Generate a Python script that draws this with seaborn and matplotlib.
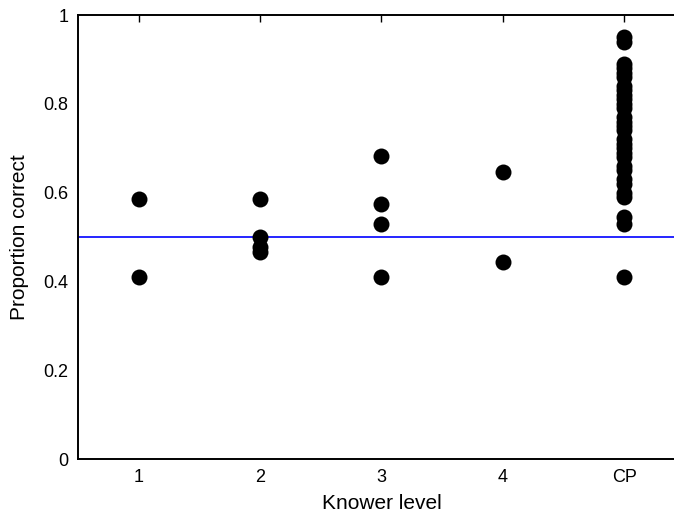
import matplotlib
matplotlib.use("Agg")
import matplotlib.pyplot as plt
import seaborn as sns
import pandas as pd

levels = ["1", "2", "3", "4", "CP"]
level1 = [0.585, 0.41]
level2 = [0.585, 0.50, 0.477, 0.466]
level3 = [0.682, 0.574, 0.529, 0.41]
level4 = [0.647, 0.444]
levelCP = [0.95, 0.94, 0.89, 0.88, 0.87, 0.86, 0.84, 0.83, 0.82, 0.81, 0.80,
           0.79, 0.77, 0.76, 0.75, 0.74, 0.72, 0.71, 0.70, 0.69, 0.68, 0.66,
           0.65, 0.63, 0.62, 0.60, 0.59, 0.545, 0.53, 0.41]
chance = 0.5

rows = []
for lab, vals in zip(levels, [level1, level2, level3, level4, levelCP]):
    for v in vals:
        rows.append({"Knower level": lab, "Proportion correct": v})
df = pd.DataFrame(rows)

sns.set_style("white")
plt.rcParams['font.family'] = ['Liberation Sans', 'DejaVu Sans']
plt.rcParams['text.color'] = 'black'
plt.rcParams['axes.labelcolor'] = 'black'

fig = plt.figure(figsize=(6.74, 5.19), dpi=100)
ax = fig.add_axes([78/674, 60/519, (685-78)/674, 444/519])

sns.stripplot(data=df, x="Knower level", y="Proportion correct", order=levels,
              jitter=False, color="black", size=11.5, linewidth=0, ax=ax, zorder=3)
ax.axhline(chance, color="blue", linewidth=1.2, zorder=2)

ax.set_xlim(-0.5, 4.5)
ax.set_ylim(0, 1)
ax.set_yticks([0, 0.2, 0.4, 0.6, 0.8, 1])
ax.set_yticklabels(["0", "0.2", "0.4", "0.6", "0.8", "1"])
ax.set_xlabel("Knower level", fontsize=15, labelpad=6, color="black")
ax.set_ylabel("Proportion correct", fontsize=15, labelpad=10, color="black")
ax.tick_params(direction="in", length=5, width=1, labelsize=13, top=True, right=True,
               colors="black", pad=7)
for s in ax.spines.values():
    s.set_visible(True)
    s.set_color("black")
    s.set_linewidth(1.4)

fig.savefig("out.png", dpi=100)
